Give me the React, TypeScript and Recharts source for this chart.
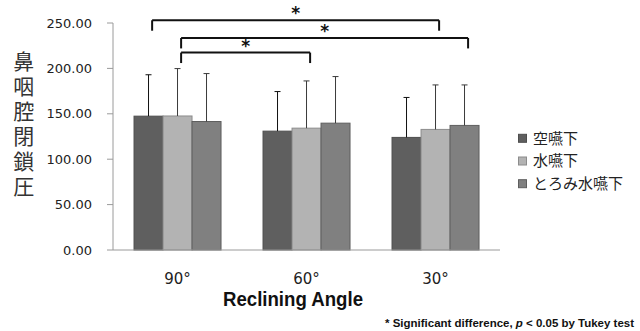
import React from 'react';
import { BarChart, Bar, XAxis, YAxis, ReferenceLine } from 'recharts';

const categories = ['90°', '60°', '30°'];
const seriesNames = ['空嚥下', '水嚥下', 'とろみ水嚥下'];
const dryMean = [147.4, 130.9, 124.0];
const drySd = [45.6, 43.6, 44.0];
const waterMean = [147.6, 134.2, 132.8];
const waterSd = [52.2, 52.0, 49.0];
const thickMean = [141.5, 139.7, 137.2];
const thickSd = [52.8, 51.3, 44.6];
const yTicks = [0, 50, 100, 150, 200, 250];
const boundaryTicks = [0, 1, 2, 3];
const yLabel = '鼻咽腔閉鎖圧';
const xTitle = 'Reclining Angle';

const brackets = [
  { from: [0, 0], to: [2, 1], level: 253 },
  { from: [0, 1], to: [2, 2], level: 233.5 },
  { from: [0, 1], to: [1, 1], level: 217.4 },
];
const legDrop = 11.5;

const seriesFill = ['#5f5f5f', '#b3b3b3', '#808080'];
const seriesStroke = ['#4e4e4e', '#8c8c8c', '#5e5e5e'];
const errColor = ['#111111', '#3a3a3a', '#3a3a3a'];
const keys: [string, string][] = [
  ['dry', 'drySd'],
  ['water', 'waterSd'],
  ['thick', 'thickSd'],
];

const data = categories.map((c, i) => ({
  cat: c,
  idx: i,
  dry: dryMean[i],
  drySd: drySd[i],
  water: waterMean[i],
  waterSd: waterSd[i],
  thick: thickMean[i],
  thickSd: thickSd[i],
}));

const GAP = 0.163;
const BARF = (1 - 2 * GAP) / 3;
const NUDGE = 0.028;
const pos = (g: number, s: number) => g + GAP + (s + 0.5) * BARF + NUDGE;

const makeShape = (k: number) => (props: any) => {
  const { x, y, width, height, payload } = props;
  const v = payload[keys[k][0]];
  const sd = payload[keys[k][1]];
  const e = v ? (sd * height) / v : 0;
  const cx = x + width / 2;
  return (
    <g>
      <rect x={x} y={y} width={width} height={height} fill={seriesFill[k]} stroke={seriesStroke[k]} strokeWidth={1} />
      <line x1={cx} x2={cx} y1={y} y2={y - e} stroke={errColor[k]} strokeWidth={1} />
      <line x1={cx - 3} x2={cx + 3} y1={y - e} y2={y - e} stroke={errColor[k]} strokeWidth={1} />
    </g>
  );
};

const axisFont = "'DejaVu Sans', Verdana, sans-serif";
const cjkFont = "'Noto Sans CJK JP', 'Noto Sans CJK SC', sans-serif";
const narrowFont = "'Liberation Sans Narrow', 'Liberation Sans', Arial, sans-serif";

export default function App() {
  return (
    <div style={{ position: 'absolute', left: 0, top: 0, width: 640, height: 331, background: '#fff' }}>
      <BarChart
        width={640}
        height={331}
        data={data}
        margin={{ top: 23, right: 140, bottom: 51, left: 0 }}
        barCategoryGap="16.3%"
        barGap={0}
      >
        <XAxis
          xAxisId="pos"
          type="number"
          dataKey="idx"
          domain={[0, 3]}
          allowDataOverflow
          ticks={boundaryTicks}
          tick={false}
          tickSize={5}
          tickLine={{ stroke: '#9a9a9a' }}
          axisLine={false}
          height={0}
        />
        <XAxis
          dataKey="cat"
          tickLine={false}
          axisLine={{ stroke: '#9a9a9a' }}
          tick={{ fill: '#222', fontSize: 15, fontFamily: axisFont }}
          tickMargin={17}
          height={30}
        />
        <YAxis
          width={113}
          domain={[0, 250]}
          ticks={yTicks}
          tickFormatter={(v: number) => v.toFixed(2)}
          tick={{ fill: '#222', fontSize: 13, fontFamily: axisFont }}
          tickSize={6}
          tickMargin={15}
          tickLine={{ stroke: '#9a9a9a' }}
          axisLine={{ stroke: '#9a9a9a' }}
        />
        {keys.map(([k], i) => (
          <Bar key={k} dataKey={k} name={seriesNames[i]} fill={seriesFill[i]} shape={makeShape(i)} isAnimationActive={false} />
        ))}
        {brackets.map((b, i) => {
          const xa = pos(b.from[0], b.from[1]);
          const xb = pos(b.to[0], b.to[1]);
          return [
            <ReferenceLine
              key={`t${i}`}
              xAxisId="pos"
              ifOverflow="visible"
              stroke="#111"
              strokeWidth={2}
              segment={[{ x: xa, y: b.level }, { x: xb, y: b.level }]}
              label={{ value: '*', position: 'top', offset: 1, fill: '#111', fontSize: 17, fontWeight: 700, fontFamily: axisFont }}
            />,
            <ReferenceLine
              key={`l${i}`}
              xAxisId="pos"
              ifOverflow="visible"
              stroke="#111"
              strokeWidth={2}
              segment={[{ x: xa, y: b.level }, { x: xa, y: b.level - legDrop }]}
            />,
            <ReferenceLine
              key={`r${i}`}
              xAxisId="pos"
              ifOverflow="visible"
              stroke="#111"
              strokeWidth={2}
              segment={[{ x: xb, y: b.level }, { x: xb, y: b.level - legDrop }]}
            />,
          ];
        })}
      </BarChart>
      <svg width={640} height={331} style={{ position: 'absolute', left: 0, top: 0, pointerEvents: 'none' }}>
        <text
          x={23.8}
          y={51}
          fontSize={21}
          fontFamily={cjkFont}
          fill="#333"
          style={{ writingMode: 'vertical-rl', letterSpacing: '4px' } as any}
        >
          {yLabel}
        </text>
        {seriesNames.map((n, i) => {
          const cy = 138.3 + 22.7 * i;
          return (
            <g key={n}>
              <rect x={518.5} y={cy - 4} width={8} height={8} fill={seriesFill[i]} stroke={seriesStroke[i]} />
              <text x={533} y={cy + 5.2} fontSize={15} fontFamily={cjkFont} fill="#222">
                {n}
              </text>
            </g>
          );
        })}
        <text x={223} y={305.5} fontFamily={narrowFont} fontWeight="bold" fontSize={20} textLength={140} lengthAdjust="spacingAndGlyphs" fill="#111">
          {xTitle}
        </text>
        <text x={385} y={326.5} fontFamily={narrowFont} fontWeight="bold" fontSize={11.5} textLength={249} lengthAdjust="spacingAndGlyphs" fill="#111">
          * Significant difference, <tspan fontStyle="italic">p</tspan> &lt; 0.05 by Tukey test
        </text>
      </svg>
    </div>
  );
}
